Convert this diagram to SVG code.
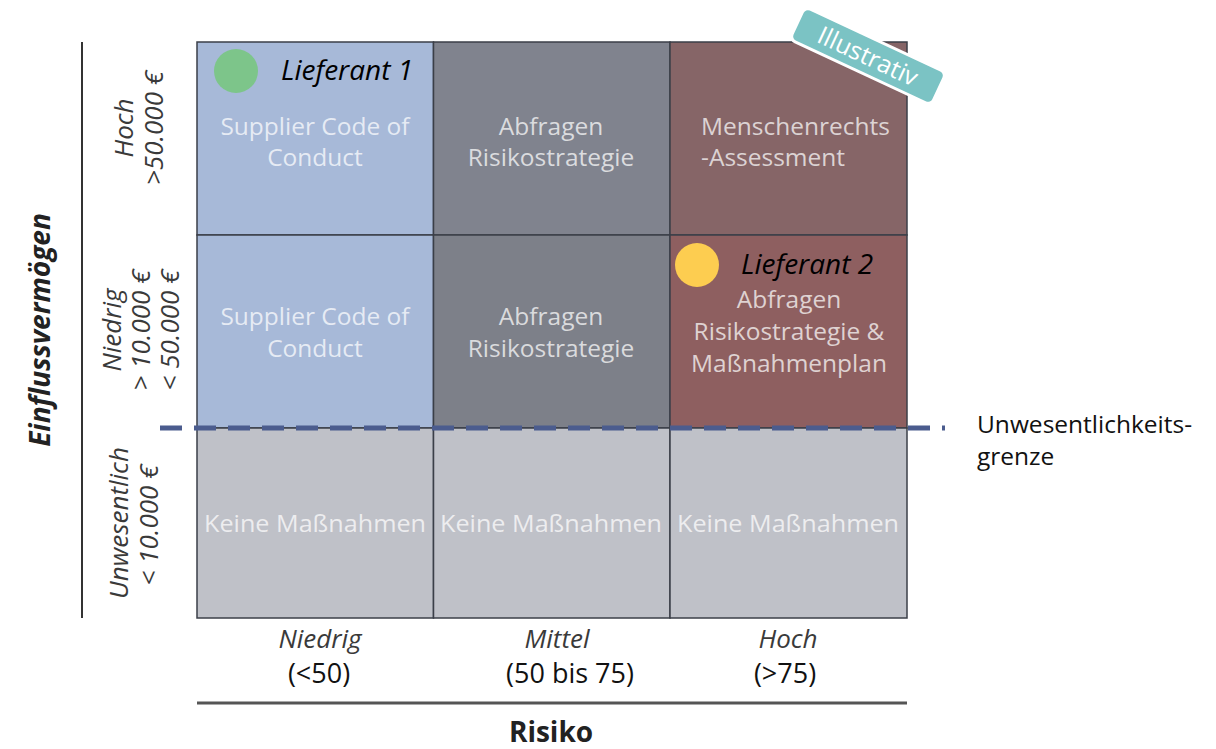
<svg xmlns="http://www.w3.org/2000/svg" width="1216" height="749" viewBox="0 0 1216 749">
<style>
.cell{stroke:#3b3f48;stroke-width:1.5}
.ct{font-family:"Open Sans","Noto Sans",sans-serif;font-size:24.5px;fill:#ffffff;fill-opacity:0.72;text-anchor:middle}
.lab{font-family:"Open Sans","Noto Sans",sans-serif;font-size:26px;font-style:italic;fill:#3a3a3a;text-anchor:middle}
.num{font-family:"Open Sans","Noto Sans",sans-serif;font-size:27px;fill:#111;text-anchor:middle}
.sup{font-family:"Open Sans","Noto Sans",sans-serif;font-size:28px;font-style:italic;fill:#000}
.ax{font-family:"Open Sans","Noto Sans",sans-serif;font-size:28px;font-weight:bold;fill:#222;text-anchor:middle}
</style>
<rect width="1216" height="749" fill="#ffffff"/>

<g id="cells">
  <g id="cell-hoch-niedrig">
    <rect class="cell" x="197" y="42" width="236.5" height="193" fill="#a7b9d8"/>
    <text class="ct" x="315" y="135">Supplier Code of</text>
    <text class="ct" x="315" y="166">Conduct</text>
  </g>
  <g id="cell-hoch-mittel">
    <rect class="cell" x="433.5" y="42" width="236.5" height="193" fill="#80838e"/>
    <text class="ct" x="551" y="135">Abfragen</text>
    <text class="ct" x="551" y="166">Risikostrategie</text>
  </g>
  <g id="cell-hoch-hoch">
    <rect class="cell" x="670" y="42" width="237" height="193" fill="#866567"/>
    <text class="ct" x="701" y="135" style="text-anchor:start">Menschenrechts</text>
    <text class="ct" x="701" y="166" style="text-anchor:start">-Assessment</text>
  </g>
  <g id="cell-niedrig-niedrig">
    <rect class="cell" x="197" y="235" width="236.5" height="193" fill="#a7b9d8"/>
    <text class="ct" x="315" y="325">Supplier Code of</text>
    <text class="ct" x="315" y="357">Conduct</text>
  </g>
  <g id="cell-niedrig-mittel">
    <rect class="cell" x="433.5" y="235" width="236.5" height="193" fill="#7d8089"/>
    <text class="ct" x="551" y="325">Abfragen</text>
    <text class="ct" x="551" y="357">Risikostrategie</text>
  </g>
  <g id="cell-niedrig-hoch">
    <rect class="cell" x="670" y="235" width="237" height="193" fill="#8e5f60"/>
    <text class="ct" x="789" y="308">Abfragen</text>
    <text class="ct" x="789" y="340">Risikostrategie &amp;</text>
    <text class="ct" x="789" y="372">Maßnahmenplan</text>
  </g>
  <g id="cell-unw-niedrig">
    <rect class="cell" x="197" y="428" width="236.5" height="190" fill="#bfc1c8"/>
    <text class="ct" x="315" y="532" textLength="222" lengthAdjust="spacingAndGlyphs">Keine Maßnahmen</text>
  </g>
  <g id="cell-unw-mittel">
    <rect class="cell" x="433.5" y="428" width="236.5" height="190" fill="#bfc1c8"/>
    <text class="ct" x="551" y="532" textLength="222" lengthAdjust="spacingAndGlyphs">Keine Maßnahmen</text>
  </g>
  <g id="cell-unw-hoch">
    <rect class="cell" x="670" y="428" width="237" height="190" fill="#bfc1c8"/>
    <text class="ct" x="788" y="532" textLength="222" lengthAdjust="spacingAndGlyphs">Keine Maßnahmen</text>
  </g>
</g>

<g id="connectors">
  <line x1="160" y1="428" x2="945" y2="428" stroke="#4b5c8e" stroke-width="5" stroke-dasharray="22 12"/>
  <line x1="82" y1="42" x2="82" y2="618" stroke="#333" stroke-width="2"/>
  <line x1="197" y1="703" x2="907" y2="703" stroke="#555" stroke-width="3"/>
</g>

<g id="lieferant-1">
  <circle cx="236" cy="71" r="22" fill="#7dc58a"/>
  <text class="sup" x="281" y="80">Lieferant 1</text>
</g>
<g id="lieferant-2">
  <circle cx="697" cy="265" r="22" fill="#fdcd50"/>
  <text class="sup" x="741" y="274">Lieferant 2</text>
</g>

<g id="illustrativ" transform="translate(868,56) rotate(25)">
  <rect x="-78" y="-18" width="156" height="36" rx="6" fill="#7bc3c4" stroke="#ffffff" stroke-width="3"/>
  <text x="0" y="9" font-family="'Open Sans','Noto Sans',sans-serif" font-size="25" fill="#ffffff" text-anchor="middle">Illustrativ</text>
</g>

<g id="y-axis">
  <text class="ax" font-style="italic" transform="translate(50,330) rotate(-90)">Einflussvermögen</text>
  <text class="lab" transform="translate(133,128) rotate(-90)">Hoch</text>
  <text class="lab" transform="translate(163,128) rotate(-90)">&gt;50.000 €</text>
  <text class="lab" transform="translate(121,330) rotate(-90)">Niedrig</text>
  <text class="lab" transform="translate(150,330) rotate(-90)">&gt; 10.000 €</text>
  <text class="lab" transform="translate(179,330) rotate(-90)">&lt; 50.000 €</text>
  <text class="lab" transform="translate(128,523) rotate(-90)">Unwesentlich</text>
  <text class="lab" transform="translate(158,525) rotate(-90)">&lt; 10.000 €</text>
</g>

<g id="x-axis">
  <text class="lab" x="320" y="648">Niedrig</text>
  <text class="num" x="319" y="683">(&lt;50)</text>
  <text class="lab" x="557" y="648">Mittel</text>
  <text class="num" x="570" y="683">(50 bis 75)</text>
  <text class="lab" x="788" y="648">Hoch</text>
  <text class="num" x="785" y="683">(&gt;75)</text>
  <text class="ax" x="551" y="742">Risiko</text>
</g>

<g id="grenze-label">
  <text x="977" y="433" font-family="'Open Sans','Noto Sans',sans-serif" font-size="24.5" fill="#111">Unwesentlichkeits-</text>
  <text x="977" y="465" font-family="'Open Sans','Noto Sans',sans-serif" font-size="24.5" fill="#111">grenze</text>
</g>
</svg>
